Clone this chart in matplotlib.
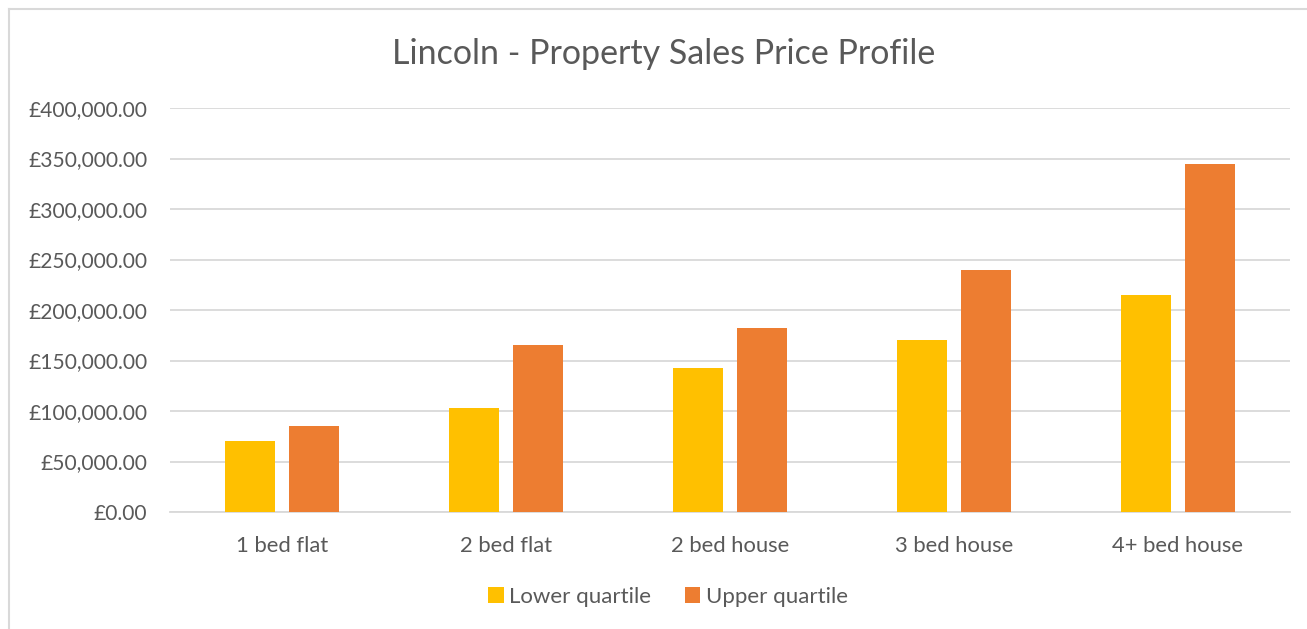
import matplotlib
matplotlib.use("Agg")
import matplotlib.pyplot as plt
import numpy as np
from matplotlib.ticker import FuncFormatter, MultipleLocator
from matplotlib.lines import Line2D
from matplotlib.patches import Patch

categories = ["1 bed flat", "2 bed flat", "2 bed house", "3 bed house", "4+ bed house"]
lower_quartile = [70000, 103000, 143000, 170000, 215000]
upper_quartile = [85000, 165000, 182000, 240000, 345000]
series_names = ["Lower quartile", "Upper quartile"]
colors = ["#FFC000", "#ED7D31"]
text_color = "#595959"
grid_color = "#D9D9D9"

plt.rcParams['font.family'] = ['Lato', 'DejaVu Sans']

W, H = 1307, 629
fig = plt.figure(figsize=(W / 100, H / 100), dpi=100)
ax = fig.add_axes([170 / W, 1 - 512 / H, 1120 / W, 404 / H])

x = np.arange(len(categories))
bw = 0.223
off = 0.1425
ax.bar(x - off, lower_quartile, width=bw, color=colors[0], zorder=3)
ax.bar(x + off, upper_quartile, width=bw, color=colors[1], zorder=3)

ax.set_xlim(-0.5, len(categories) - 0.5)
ax.set_ylim(0, 400000)
ax.yaxis.set_major_locator(MultipleLocator(50000))
ax.yaxis.set_major_formatter(FuncFormatter(lambda v, p: f"£{v:,.2f}"))
ax.set_xticks(x)
ax.set_xticklabels(categories)
ax.grid(axis='y', color=grid_color, linewidth=1.3, zorder=0)
ax.set_axisbelow(True)
for s in ['top', 'right', 'left']:
    ax.spines[s].set_visible(False)
ax.spines['bottom'].set_color(grid_color)
ax.spines['bottom'].set_linewidth(1.3)
ax.tick_params(axis='y', length=0, colors=text_color, labelsize=15.1, pad=16.5)
ax.tick_params(axis='x', length=0, colors=text_color, labelsize=15.8, pad=17)

fig.text(664 / W, 1 - 54 / H, "Lincoln - Property Sales Price Profile",
         ha='center', va='center', fontsize=24.5, color=text_color)

handles = [Patch(facecolor=c, edgecolor='none') for c in colors]
leg = fig.legend(handles, series_names, loc='center', bbox_to_anchor=(668 / W, 1 - 597 / H),
                 ncol=2, frameon=False, fontsize=16, handlelength=0.7, handleheight=0.7,
                 handletextpad=0.25, columnspacing=1.5)
for t in leg.get_texts():
    t.set_color(text_color)

# chart border
fig.add_artist(Line2D([8.5 / W, 8.5 / W], [0, 1 - 8.5 / H], color=grid_color, linewidth=1.5))
fig.add_artist(Line2D([8.5 / W, 1], [1 - 8.5 / H, 1 - 8.5 / H], color=grid_color, linewidth=1.5))

fig.savefig("out.png", dpi=100)
